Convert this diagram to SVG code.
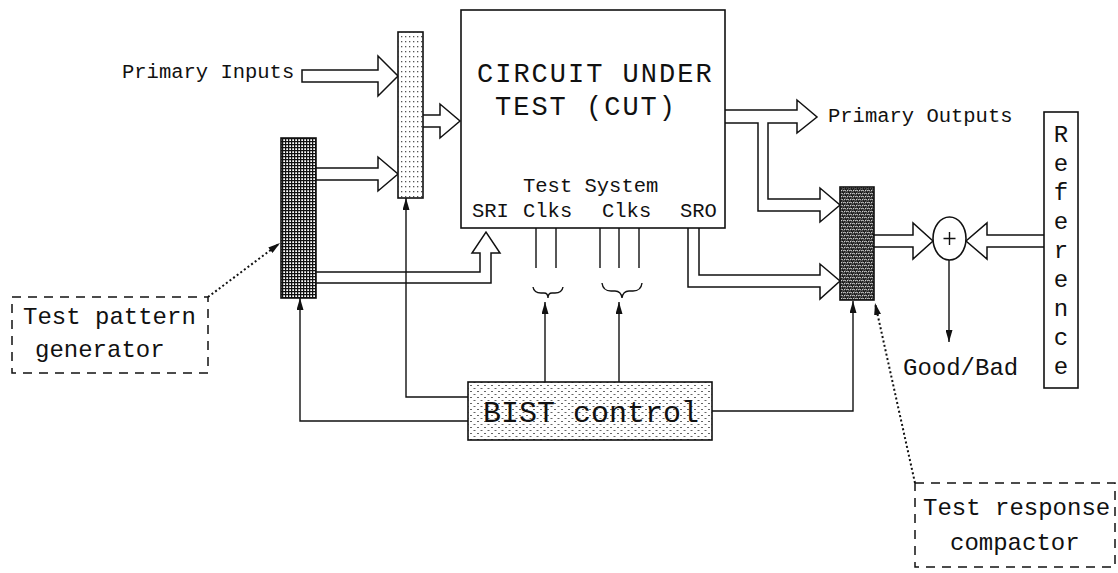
<svg xmlns="http://www.w3.org/2000/svg" width="1118" height="573" viewBox="0 0 1118 573">
<style>
.t{font-family:"Liberation Mono","Courier New",monospace;fill:#111}
.box{stroke:#111;stroke-width:1.6}
.ha{fill:#fff;stroke:#111;stroke-width:1.5;stroke-linejoin:miter}
.ln{fill:none;stroke:#111;stroke-width:1.4}
.dot{fill:none;stroke:#111;stroke-width:2;stroke-dasharray:2 2.5}
.dash{fill:none;stroke:#111;stroke-width:1.5;stroke-dasharray:9 7}
.big{font-size:27px;letter-spacing:2px}
</style>
<defs>
<marker id="ah" viewBox="0 0 12 7" refX="12" refY="3.5" markerWidth="12" markerHeight="7" markerUnits="userSpaceOnUse" orient="auto"><path d="M0,0 L12,3.5 L0,7 z" fill="#111"/></marker>
<pattern id="dots" width="4" height="5" patternUnits="userSpaceOnUse"><rect width="4" height="5" fill="#fff"/><rect x="1" y="1" width="1.3" height="1.3" fill="#555"/></pattern>
<pattern id="grid" width="3" height="3" patternUnits="userSpaceOnUse"><rect width="3" height="3" fill="#fff"/><path d="M0 0.6H3M0.6 0V3" stroke="#111" stroke-width="1.3"/></pattern>
<pattern id="weave" width="6" height="6" patternUnits="userSpaceOnUse"><rect width="6" height="6" fill="#1c1c1c"/><path d="M0 2 Q1.5 0.5 3 2 M3 5 Q4.5 3.5 6 5 M1 5.5 Q1.5 3.5 2.5 4 M4 2.5 Q4.5 0.5 5.5 1" stroke="#fff" stroke-width="0.9" fill="none"/></pattern>
<pattern id="bist" width="7" height="6" patternUnits="userSpaceOnUse"><rect width="7" height="6" fill="#fff"/><path d="M1 1.5h2M4.5 4.5h2" stroke="#666" stroke-width="1"/></pattern>
</defs>

<g id="connectors">
  <path class="ha" d="M302,70 L378,70 L378,56 L398,76 L378,96 L378,82 L302,82 Z"/>
  <path class="ha" d="M316,168 L378,168 L378,157 L398,174 L378,191 L378,180 L316,180"/>
  <path class="ha" d="M423,115 L440,115 L440,104 L460,121 L440,138 L440,127 L423,127"/>
  <path class="ha" d="M316,272 L480,272 L480,253 L472,253 L486,232 L500,253 L491,253 L491,283 L316,283"/>
  <path class="ha" d="M725,110 L797,110 L797,100 L817,117 L797,133 L797,123 L768,123 L768,199 L820,199 L820,188 L840,205 L820,222 L820,211 L758,211 L758,123 L725,123"/>
  <path class="ha" d="M688,228 L688,287 L820,287 L820,299 L840,281 L820,264 L820,275 L699,275 L699,228"/>
  <path class="ha" d="M874,235 L913,235 L913,223 L933,241 L913,259 L913,247 L874,247"/>
  <path class="ha" d="M1044,235 L987,235 L987,223 L966,241 L987,259 L987,247 L1044,247"/>
  <path class="ln" d="M536,228V268M556,228V268M600,228V268M619,228V268M639,228V268"/>
  <path class="ln" stroke-width="1.6" d="M533,287 Q534,293 541,293 L544,293 Q548,293 548,298 Q548,293 552,293 L555,293 Q562,293 563,287"/>
  <path class="ln" stroke-width="2.2" d="M602,283 Q603,291 611,291 L615,291 Q621,291 622,298 Q623,291 629,291 L633,291 Q641,291 642,283"/>
  <path class="ln" marker-end="url(#ah)" d="M470,421 H300 V298"/>
  <path class="ln" marker-end="url(#ah)" d="M470,397 H406 V198"/>
  <path class="ln" marker-end="url(#ah)" d="M545,382 V302"/>
  <path class="ln" marker-end="url(#ah)" d="M619,382 V302"/>
  <path class="ln" marker-end="url(#ah)" d="M712,411 H853 V301"/>
  <path class="ln" marker-end="url(#ah)" d="M949,260 V342"/>
  <path class="dot" marker-end="url(#ah)" d="M208,297 L280,243"/>
  <path class="dot" marker-end="url(#ah)" d="M915,483 L875,303"/>
</g>

<g id="primary-inputs"><text class="t" x="122" y="78" font-size="20.5">Primary Inputs</text></g>
<g id="primary-outputs"><text class="t" x="828" y="122" font-size="20.5">Primary Outputs</text></g>

<g id="mux"><rect class="box" x="398" y="32" width="25" height="166" fill="url(#dots)"/></g>
<g id="tpg"><rect class="box" x="281" y="138" width="35" height="160" fill="url(#grid)"/></g>

<g id="cut">
  <rect class="box" x="461" y="10" width="264" height="218" fill="#fff"/>
  <text class="t big" x="477" y="82">CIRCUIT UNDER</text>
  <text class="t big" x="495" y="115">TEST (CUT)</text>
  <text class="t" x="523" y="192" font-size="20.5">Test System</text>
  <text class="t" x="472" y="217" font-size="20.5">SRI</text>
  <text class="t" x="523" y="217" font-size="20.5">Clks</text>
  <text class="t" x="602" y="217" font-size="20.5">Clks</text>
  <text class="t" x="680" y="217" font-size="20.5">SRO</text>
</g>

<g id="compactor"><rect class="box" x="840" y="187" width="34" height="113" fill="url(#weave)"/></g>

<g id="xor">
  <ellipse class="box" cx="949.5" cy="238.5" rx="16.5" ry="21.5" fill="#fff"/>
  <path class="ln" d="M949.5,232V245M943.5,238.5H955.5"/>
</g>

<g id="reference">
  <rect class="box" x="1044" y="112" width="34" height="276" fill="#fff"/>
  <g class="t" font-size="24" text-anchor="middle">
    <text x="1061" y="142">R</text><text x="1061" y="171">e</text><text x="1061" y="200">f</text>
    <text x="1061" y="229">e</text><text x="1061" y="258">r</text><text x="1061" y="287">e</text>
    <text x="1061" y="316">n</text><text x="1061" y="345">c</text><text x="1061" y="374">e</text>
  </g>
</g>

<g id="good-bad"><text class="t" x="903" y="375" font-size="24">Good/Bad</text></g>

<g id="bist-control">
  <rect class="box" x="468" y="382" width="244" height="58" fill="url(#bist)"/>
  <text class="t" x="483" y="422" font-size="30">BIST control</text>
</g>

<g id="tpg-label">
  <rect class="dash" x="12" y="297" width="196" height="76"/>
  <text class="t" x="23" y="324" font-size="24">Test pattern</text>
  <text class="t" x="35" y="357" font-size="24">generator</text>
</g>

<g id="compactor-label">
  <rect class="dash" x="915" y="483" width="200" height="84"/>
  <text class="t" x="923" y="515" font-size="24">Test response</text>
  <text class="t" x="950" y="550" font-size="24">compactor</text>
</g>
</svg>
